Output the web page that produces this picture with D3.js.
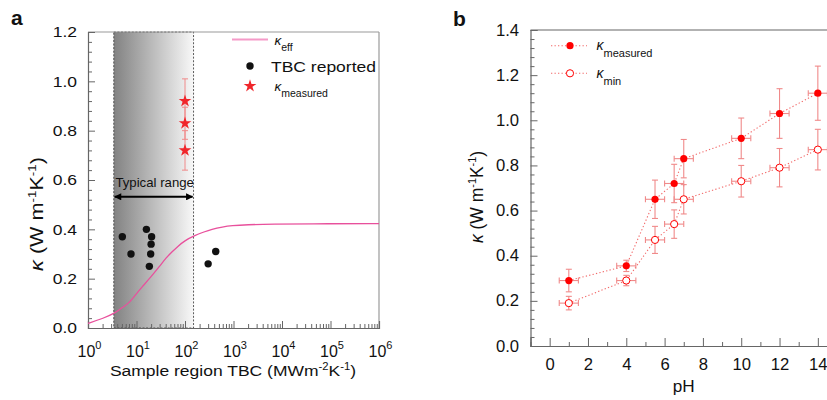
<!DOCTYPE html>
<html><head><meta charset="utf-8">
<script src="https://cdn.jsdelivr.net/npm/d3@7"></script>
<style>body{margin:0;background:#fff}svg{display:block;font-family:"Liberation Sans",Arial,sans-serif}</style>
</head><body><svg id="c" width="827" height="400"></svg>
<script>
// ---------- Panel a data ----------
const tbcG = [5.1, 7.7, 16, 20.5, 20, 19.6, 18.4, 300, 430];
const tbcK = [0.37, 0.30, 0.40, 0.37, 0.34, 0.30, 0.25, 0.26, 0.31];
const measG = [100, 100, 100];
const measK = [0.92, 0.83, 0.72];
const measErr = [0.09, 0.065, 0.08];
const effG = [1, 2, 3.6, 5, 7, 10, 13, 20, 30, 40, 55, 70, 100, 160, 250, 350, 600, 900, 2000, 5000, 1e5, 1e6];
const effK = [0.019, 0.038, 0.06, 0.083, 0.10, 0.14, 0.166, 0.208, 0.25, 0.283, 0.31, 0.33, 0.355, 0.375, 0.39, 0.40, 0.41, 0.415, 0.419, 0.421, 0.423, 0.423];
const rangeLo = 3.4, rangeHi = 150;
const aYTicks = [0, 0.2, 0.4, 0.6, 0.8, 1.0, 1.2];
const aXTicks = [1, 10, 100, 1000, 1e4, 1e5, 1e6];
const aXExp = ["0", "1", "2", "3", "4", "5", "6"];
// ---------- Panel b data ----------
const pH = [1, 4, 5.5, 6.5, 7, 10, 12, 14];
const kMeas = [0.29, 0.355, 0.65, 0.72, 0.83, 0.92, 1.03, 1.12];
const kMeasErr = [0.05, 0.025, 0.085, 0.085, 0.085, 0.09, 0.11, 0.12];
const kMin = [0.19, 0.29, 0.47, 0.54, 0.65, 0.73, 0.79, 0.87];
const kMinErr = [0.03, 0.023, 0.06, 0.063, 0.065, 0.07, 0.085, 0.09];
const pHErr = 0.5;
const bYTicks = [0, 0.2, 0.4, 0.6, 0.8, 1.0, 1.2, 1.4];
const bXTicks = [0, 2, 4, 6, 8, 10, 12, 14];

const svg = d3.select("#c");
const defs = svg.append("defs");
const grad = defs.append("linearGradient").attr("id", "band").attr("x1", 0).attr("x2", 1).attr("y1", 0).attr("y2", 0);
grad.append("stop").attr("offset", 0).attr("stop-color", "#828282");
grad.append("stop").attr("offset", 1).attr("stop-color", "#f8f8f8");
defs.append("marker").attr("id", "ah").attr("viewBox", "0 0 10 10").attr("refX", 9).attr("refY", 5)
  .attr("markerWidth", 4.2).attr("markerHeight", 3.6).attr("orient", "auto-start-reverse")
  .append("path").attr("d", "M0,0L10,5L0,10z").attr("fill", "#000");

const AXC = "#666", FRC = "#9a9a9a", TXT = "#111";
function styleAxis(g, fs, sx) {
  g.select(".domain").attr("stroke", AXC).attr("stroke-width", 1.2);
  g.selectAll(".tick line").attr("stroke", AXC).attr("stroke-width", 1);
  g.selectAll(".tick text").attr("font-size", fs).attr("fill", TXT).attr("font-family", '"Liberation Sans",Arial,sans-serif');
  if (sx && sx !== 1) {
    g.selectAll(".tick text").each(function () {
      const t = d3.select(this);
      const x = +t.attr("x") || 0;
      t.attr("x", x / sx).attr("transform", `scale(${sx},1)`);
    });
  }
}
function stext(g, x, y, sx, fs) {
  return g.append("text").attr("transform", `translate(${x},${y}) scale(${sx},1)`).attr("font-size", fs).attr("fill", TXT);
}

// ================= Panel a =================
const A = { l: 88, r: 379, t: 32, b: 328 };
const SXA = 1.13;
const xa = d3.scaleLog().domain([1, 1e6]).range([A.l, A.r]);
const ya = d3.scaleLinear().domain([0, 1.2]).range([A.b, A.t]);
const ga = svg.append("g");

ga.append("rect").attr("x", xa(rangeLo)).attr("y", ya(1.2))
  .attr("width", xa(rangeHi) - xa(rangeLo)).attr("height", ya(0) - ya(1.2))
  .attr("fill", "url(#band)").attr("stroke", "#333").attr("stroke-width", 0.8).attr("stroke-dasharray", "2,1.6");

// frame
ga.append("line").attr("x1", A.l).attr("x2", A.r).attr("y1", A.t).attr("y2", A.t).attr("stroke", FRC).attr("stroke-width", 1.2);
ga.append("line").attr("x1", A.r).attr("x2", A.r).attr("y1", A.t).attr("y2", A.b).attr("stroke", FRC).attr("stroke-width", 1.2);

const aYMinor = d3.range(0, 1.2001, 0.04).filter(v => Math.abs(v * 5 - Math.round(v * 5)) > 1e-6);
const gy1 = ga.append("g").attr("transform", `translate(${A.l},0)`)
  .call(d3.axisLeft(ya).tickValues(aYTicks).tickSize(-7).tickPadding(11).tickFormat(d3.format(".1f")));
styleAxis(gy1, 15.5, SXA);
const gy2 = ga.append("g").attr("transform", `translate(${A.l},0)`)
  .call(d3.axisLeft(ya).tickValues(aYMinor).tickSize(-4).tickFormat(""));
gy2.select(".domain").remove(); styleAxis(gy2, 0);

const aXMinor = [];
aXTicks.slice(0, -1).forEach(d => { for (let m = 2; m <= 9; m++) aXMinor.push(d * m); });
const gx1 = ga.append("g").attr("transform", `translate(0,${A.b})`)
  .call(d3.axisBottom(xa).tickValues(aXTicks).tickSize(-7).tickPadding(17).tickFormat(""));
styleAxis(gx1, 16);
gx1.selectAll(".tick text").each(function (d, i) {
  const t = d3.select(this).attr("dy", null).attr("y", 28.5).attr("x", 1);
  t.append("tspan").text("10");
  t.append("tspan").attr("font-size", 11).attr("dy", -7.5).text(aXExp[i]);
});
const gx2 = ga.append("g").attr("transform", `translate(0,${A.b})`)
  .call(d3.axisBottom(xa).tickValues(aXMinor).tickSize(-4).tickFormat(""));
gx2.select(".domain").remove(); styleAxis(gx2, 0);

// kappa_eff curve
const effData = effG.map((g, i) => ({ g, k: effK[i] }));
ga.append("path").datum(effData).attr("fill", "none").attr("stroke", "#e8509c").attr("stroke-width", 1.3)
  .attr("d", d3.line().x(d => xa(d.g)).y(d => ya(d.k)).curve(d3.curveBasis));

// TBC reported dots
ga.selectAll("circle.tbc").data(tbcG.map((g, i) => ({ g, k: tbcK[i] }))).join("circle")
  .attr("class", "tbc").attr("cx", d => xa(d.g)).attr("cy", d => ya(d.k)).attr("r", 3.7).attr("fill", "#111");

// measured stars with error bars
const measData = measG.map((g, i) => ({ g, k: measK[i], e: measErr[i] }));
const ERR = "#f08a8a";
measData.forEach(d => {
  const x = xa(d.g);
  ga.append("line").attr("x1", x).attr("x2", x).attr("y1", ya(d.k - d.e)).attr("y2", ya(d.k + d.e)).attr("stroke", ERR).attr("stroke-width", 1);
  [d.k - d.e, d.k + d.e].forEach(v => ga.append("line").attr("x1", x - 3).attr("x2", x + 3).attr("y1", ya(v)).attr("y2", ya(v)).attr("stroke", ERR).attr("stroke-width", 1));
});
ga.selectAll("path.star").data(measData).join("path").attr("class", "star")
  .attr("transform", d => `translate(${xa(d.g)},${ya(d.k)})`)
  .attr("d", d3.symbol(d3.symbolStar, 50)).attr("fill", "#f0262b");

// typical range arrow
const yArrow = ya(0.532);
ga.append("line").attr("x1", xa(rangeLo) + 1).attr("x2", xa(rangeHi) - 1).attr("y1", yArrow).attr("y2", yArrow)
  .attr("stroke", "#000").attr("stroke-width", 2).attr("marker-start", "url(#ah)").attr("marker-end", "url(#ah)");
stext(ga, xa(Math.sqrt(rangeLo * rangeHi)) + 1, ya(0.573), 1.1, 12).attr("text-anchor", "middle").text("Typical range");

// axis titles
const xt = stext(ga, 233, 376, SXA, 15.5).attr("text-anchor", "middle");
xt.append("tspan").text("Sample region TBC (MWm");
xt.append("tspan").attr("font-size", 10).attr("dy", -6).text("-2");
xt.append("tspan").attr("dy", 6).text("K");
xt.append("tspan").attr("font-size", 10).attr("dy", -6).text("-1");
xt.append("tspan").attr("dy", 6).text(")");

function kTitle(g, x, y, fs, sx) {
  const t = g.append("text").attr("transform", `translate(${x},${y}) rotate(-90) scale(${sx},1)`)
    .attr("font-size", fs).attr("fill", TXT).attr("text-anchor", "middle");
  t.append("tspan").attr("font-style", "italic").text("κ");
  t.append("tspan").text(" (W m");
  t.append("tspan").attr("font-size", fs * 0.62).attr("dy", -fs * 0.4).text("-1");
  t.append("tspan").attr("dy", fs * 0.4).text("K");
  t.append("tspan").attr("font-size", fs * 0.62).attr("dy", -fs * 0.4).text("-1");
  t.append("tspan").attr("dy", fs * 0.4).text(")");
  return t;
}
kTitle(ga, 43, 214, 18, 1.2);

// panel letter
svg.append("text").attr("x", 11).attr("y", 25).attr("font-size", 21).attr("font-weight", "bold").attr("fill", TXT).text("a");

// legend a
ga.append("line").attr("x1", 232).attr("x2", 268).attr("y1", 39.5).attr("y2", 39.5).attr("stroke", "#f59ac8").attr("stroke-width", 2);
function kLegend(g, x, y, sub, fs, sfs) {
  const t = g.append("text").attr("x", x).attr("y", y).attr("fill", TXT).attr("font-size", fs);
  t.append("tspan").attr("font-style", "italic").text("κ");
  t.append("tspan").attr("font-size", sfs).attr("dy", fs * 0.5).text(sub);
  return t;
}
kLegend(ga, 274.5, 44.5, "eff", 13.5, 10.5);
ga.append("circle").attr("cx", 250).attr("cy", 66).attr("r", 3.7).attr("fill", "#111");
stext(ga, 271, 71.5, 1.13, 15.5).text("TBC reported");
ga.append("path").attr("transform", "translate(250,86)").attr("d", d3.symbol(d3.symbolStar, 50)).attr("fill", "#f0262b");
kLegend(ga, 274.5, 90.5, "measured", 13.5, 10.5);

// ================= Panel b =================
const B = { l: 530.5, r: 837, t: 30, b: 346 };
const xb = d3.scaleLinear().domain([-1, 15]).range([B.l, B.r]);
const yb = d3.scaleLinear().domain([0, 1.4]).range([B.b, B.t]);
const gb = svg.append("g");
gb.append("line").attr("x1", B.l).attr("x2", B.r).attr("y1", B.t).attr("y2", B.t).attr("stroke", AXC).attr("stroke-width", 1.2);
gb.append("line").attr("x1", B.r).attr("x2", B.r).attr("y1", B.t).attr("y2", B.b).attr("stroke", AXC).attr("stroke-width", 1.2);

const bYMinor = d3.range(0, 1.4001, 0.04).filter(v => Math.abs(v * 5 - Math.round(v * 5)) > 1e-6);
const by1 = gb.append("g").attr("transform", `translate(${B.l},0)`)
  .call(d3.axisLeft(yb).tickValues(bYTicks).tickSize(-7).tickPadding(11.5).tickFormat(d3.format(".1f")));
styleAxis(by1, 16, 1.04);
const by2 = gb.append("g").attr("transform", `translate(${B.l},0)`)
  .call(d3.axisLeft(yb).tickValues(bYMinor).tickSize(-4).tickFormat(""));
by2.select(".domain").remove(); styleAxis(by2, 0);
const bx1 = gb.append("g").attr("transform", `translate(0,${B.b})`)
  .call(d3.axisBottom(xb).tickValues(bXTicks).tickSize(-8).tickPadding(13).tickFormat(d3.format("d")));
styleAxis(bx1, 16, 1.04);
const bXMinor = d3.range(-1, 15.01, 2);
const bx2 = gb.append("g").attr("transform", `translate(0,${B.b})`)
  .call(d3.axisBottom(xb).tickValues(bXMinor).tickSize(-4).tickFormat(""));
bx2.select(".domain").remove(); styleAxis(bx2, 0);

const LINEC = "#f26a6a", RED = "#ff0000";
function series(vals, errs, filled) {
  const data = pH.map((p, i) => ({ p, k: vals[i], e: errs[i] }));
  gb.append("path").datum(data).attr("fill", "none").attr("stroke", LINEC).attr("stroke-width", 1.1)
    .attr("stroke-dasharray", "1.3,2.2").attr("d", d3.line().x(d => xb(d.p)).y(d => yb(d.k)));
  data.forEach(d => {
    const x = xb(d.p), y = yb(d.k);
    const eg = gb.append("g").attr("stroke", ERR).attr("stroke-width", 1.1);
    eg.append("line").attr("x1", x).attr("x2", x).attr("y1", yb(d.k - d.e)).attr("y2", yb(d.k + d.e));
    [d.k - d.e, d.k + d.e].forEach(v => eg.append("line").attr("x1", x - 3).attr("x2", x + 3).attr("y1", yb(v)).attr("y2", yb(v)));
    eg.append("line").attr("x1", xb(d.p - pHErr)).attr("x2", xb(d.p + pHErr)).attr("y1", y).attr("y2", y);
    [d.p - pHErr, d.p + pHErr].forEach(v => eg.append("line").attr("x1", xb(v)).attr("x2", xb(v)).attr("y1", y - 3).attr("y2", y + 3));
  });
  gb.selectAll(null).data(data).join("circle").attr("cx", d => xb(d.p)).attr("cy", d => yb(d.k)).attr("r", 3.6)
    .attr("fill", filled ? RED : "#fff").attr("stroke", RED).attr("stroke-width", filled ? 0 : 1);
}
series(kMin, kMinErr, false);
series(kMeas, kMeasErr, true);

// axis titles b
stext(gb, xb(7), 392, 1.04, 16.5).attr("text-anchor", "middle").text("pH");
kTitle(gb, 483, 197, 17.5, 1.0);
svg.append("text").attr("x", 453).attr("y", 26).attr("font-size", 21).attr("font-weight", "bold").attr("fill", TXT).text("b");

// legend b
[[45.7, true, "measured"], [73.3, false, "min"]].forEach(([y, f, s]) => {
  gb.append("line").attr("x1", 551).attr("x2", 587).attr("y1", y).attr("y2", y).attr("stroke", LINEC)
    .attr("stroke-width", 1.1).attr("stroke-dasharray", "1.3,2.2");
  gb.append("circle").attr("cx", 570).attr("cy", y).attr("r", 3.6).attr("fill", f ? RED : "#fff")
    .attr("stroke", RED).attr("stroke-width", f ? 0 : 1);
  kLegend(gb, 596.5, y + 4.5, s, 14, 11);
});
</script></body></html>
